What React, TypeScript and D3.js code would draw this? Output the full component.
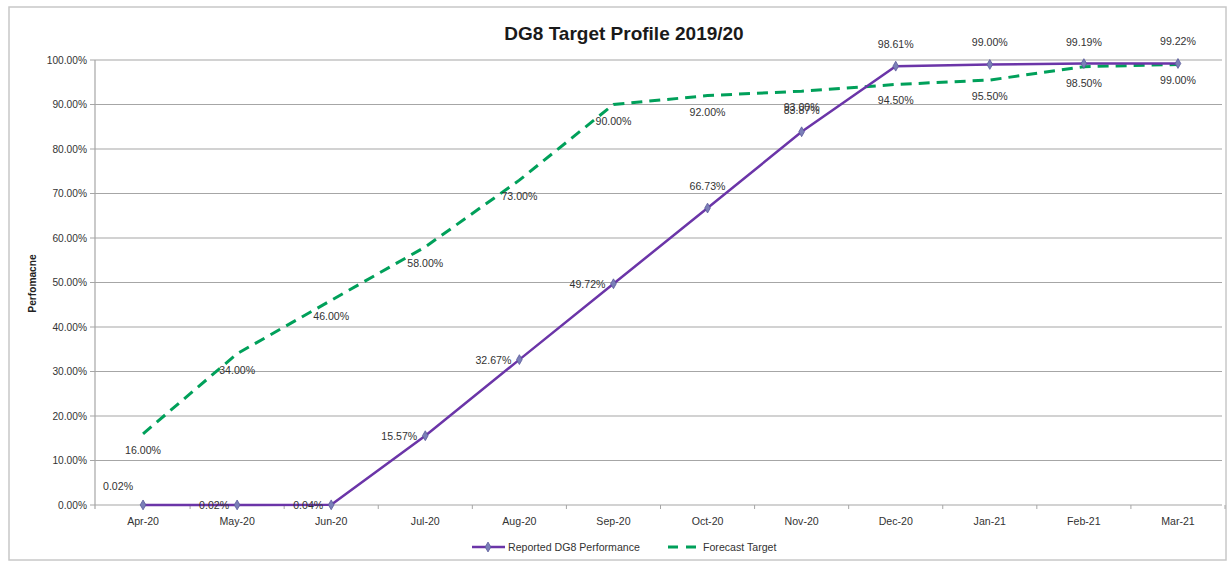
import React from "react";
import * as d3 from "d3";

const months = ["Apr-20","May-20","Jun-20","Jul-20","Aug-20","Sep-20","Oct-20","Nov-20","Dec-20","Jan-21","Feb-21","Mar-21"];
const reported = [0.02, 0.02, 0.04, 15.57, 32.67, 49.72, 66.73, 83.87, 98.61, 99.0, 99.19, 99.22];
const forecast = [16, 34, 46, 58, 73, 90, 92, 93, 94.5, 95.5, 98.5, 99];
const reportedLabelPos = ["aboveLeft","left","left","left","left","left","above","above","above","above","above","above"];
const yTicks = [0,10,20,30,40,50,60,70,80,90,100];

const W = 1230, H = 563;
const plot = { left: 96, right: 1225, top: 60, bottom: 505 };
const FONT = "'Liberation Sans', Arial, sans-serif";
const FS = 10.6;

export default function App() {
  const x = d3.scaleBand<string>().domain(months).range([plot.left, plot.right]);
  const bw = x.bandwidth();
  const cx = (m: string) => (x(m) as number) + bw / 2;
  const y = d3.scaleLinear().domain([0, 100]).range([plot.bottom, plot.top]);
  const line = d3.line<[number, number]>().x(d => d[0]).y(d => d[1]);
  const repPts: [number, number][] = months.map((m, i) => [cx(m), y(reported[i])]);
  const fcPts: [number, number][] = months.map((m, i) => [cx(m), y(forecast[i])]);
  const diamond = d3.symbol().type(d3.symbolDiamond).size(28)();
  const fmt = (v: number) => v.toFixed(2) + "%";

  return (
    <svg width={W} height={H} style={{ position: "absolute", left: 0, top: 0, background: "#fff" }}>
      <rect x={9} y={7} width={1217} height={553} fill="#fff" stroke="#c8c8c8" strokeWidth={1.5} />
      <text x={624} y={40} textAnchor="middle" fontFamily={FONT} fontWeight="bold" fontSize={19} fill="#1a1a1a">DG8 Target Profile 2019/20</text>
      {yTicks.map(t => (
        <g key={t}>
          <line x1={plot.left - 6} x2={plot.right - 3} y1={y(t)} y2={y(t)} stroke="#a6a6a6" strokeWidth={1.2} />
          <text x={87} y={y(t) + 3.8} textAnchor="end" fontFamily={FONT} fontSize={10.2} fill="#333">{t.toFixed(2)}%</text>
        </g>
      ))}
      <line x1={plot.left - 1} x2={plot.left - 1} y1={plot.top} y2={plot.bottom + 4} stroke="#a6a6a6" strokeWidth={1.2} />
      {months.map((m, i) => (
        <line key={"t" + i} x1={(x(m) as number) + bw} x2={(x(m) as number) + bw} y1={plot.bottom} y2={plot.bottom + 4} stroke="#a6a6a6" />
      ))}
      {months.map(m => (
        <text key={m} x={cx(m)} y={plot.bottom + 20} textAnchor="middle" fontFamily={FONT} fontSize={FS} fill="#333">{m}</text>
      ))}
      <text transform={`translate(36,${(plot.top + plot.bottom) / 2 + 1}) rotate(-90)`} textAnchor="middle" fontFamily={FONT} fontWeight="bold" fontSize={10.2} fill="#222">Perfomacne</text>

      <path d={line(fcPts) || ""} fill="none" stroke="#00a05a" strokeWidth={3} strokeDasharray="11,7" />
      <path d={line(repPts) || ""} fill="none" stroke="#6b35a8" strokeWidth={2.5} />
      {repPts.map((p, i) => (
        <path key={"d" + i} d={diamond || ""} transform={`translate(${p[0]},${p[1]})`} fill="#7b7fb8" stroke="#5a5a9a" strokeWidth={0.8} />
      ))}
      {fcPts.map((p, i) => (
        <text key={"fl" + i} x={p[0]} y={p[1] + 20} textAnchor="middle" fontFamily={FONT} fontSize={FS} fill="#333">{fmt(forecast[i])}</text>
      ))}
      {repPts.map((p, i) => {
        const pos = reportedLabelPos[i];
        let tx = p[0], ty = p[1] - 18, anchor = "middle";
        if (pos === "left") { tx = p[0] - 8; ty = p[1] + 4; anchor = "end"; }
        if (pos === "aboveLeft") { tx = p[0] - 25; ty = p[1] - 15; anchor = "middle"; }
        return <text key={"rl" + i} x={tx} y={ty} textAnchor={anchor} fontFamily={FONT} fontSize={FS} fill="#333">{fmt(reported[i])}</text>;
      })}

      <g>
        <line x1={472} x2={505} y1={547} y2={547} stroke="#6b35a8" strokeWidth={2.5} />
        <path d={diamond || ""} transform="translate(488,547)" fill="#7b7fb8" stroke="#5a5a9a" strokeWidth={0.8} />
        <text x={508} y={551} fontFamily={FONT} fontSize={FS} fill="#333">Reported DG8 Performance</text>
        <line x1={668} x2={700} y1={547} y2={547} stroke="#00a05a" strokeWidth={3} strokeDasharray="10,8" />
        <text x={703} y={551} fontFamily={FONT} fontSize={FS} fill="#333">Forecast Target</text>
      </g>
    </svg>
  );
}
